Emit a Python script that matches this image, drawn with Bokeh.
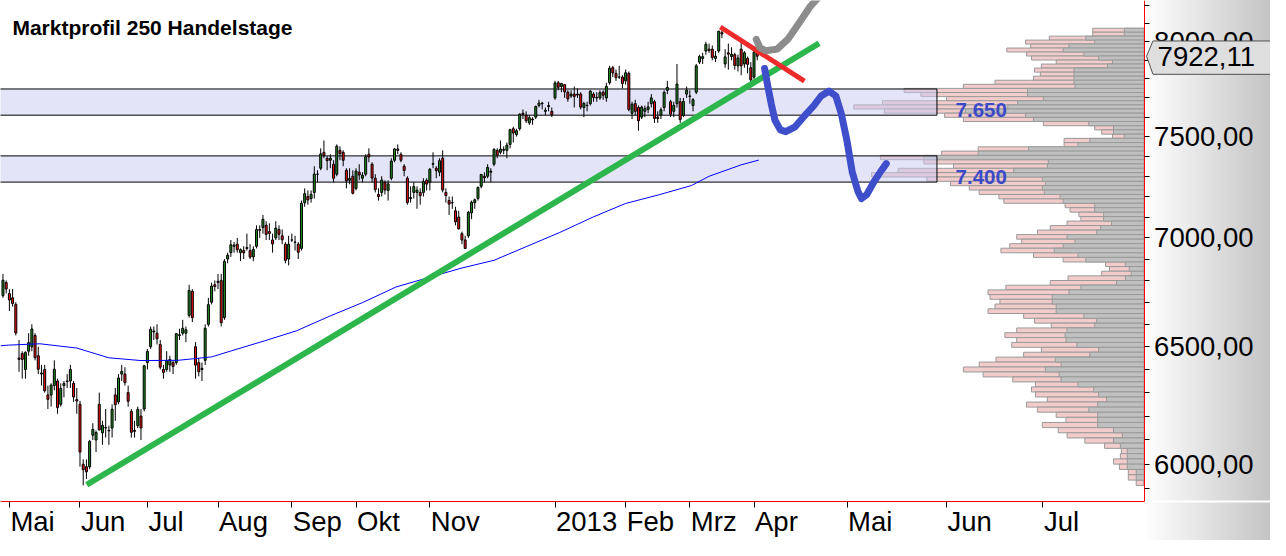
import math
from bokeh.plotting import figure
from bokeh.models import (Range1d, FixedTicker, ColumnDataSource, Label, LabelSet,
                          LinearAxis, LogAxis)
from bokeh.core.properties import value
from bokeh.embed import file_html
from bokeh.resources import INLINE

# ---------------- data ----------------
start_index = -2  # trading-day index of first candle (0 = 2 May 2012)
opens = [6730, 6790, 6740, 6720, 6690, 6450, 6470, 6400, 6480, 6500,
         6550, 6460, 6380, 6400, 6290, 6290, 6330, 6350, 6250, 6330,
         6350, 6350, 6340, 6270, 6250, 6000, 5990, 5990, 6120, 6100,
         6250, 6130, 6150, 6140, 6150, 6290, 6260, 6380, 6380, 6300,
         6220, 6140, 6160, 6200, 6230, 6430, 6500, 6570, 6560, 6510,
         6400, 6400, 6420, 6430, 6430, 6550, 6560, 6560, 6640, 6750,
         6500, 6430, 6400, 6440, 6600, 6700, 6780, 6790, 6800, 6630,
         6900, 6930, 6960, 6970, 6930, 6940, 6950, 6940, 6910, 6960,
         7040, 7050, 7060, 7030, 6990, 7000, 7040, 7010, 6970, 6900,
         6990, 6980, 6970, 6950, 7170, 7200, 7190, 7220, 7310, 7340,
         7420, 7390, 7380, 7360, 7310, 7430, 7420, 7330, 7280, 7300,
         7240, 7320, 7290, 7310, 7410, 7360, 7290, 7210, 7220, 7270,
         7230, 7290, 7380, 7430, 7410, 7350, 7290, 7190, 7220, 7220,
         7220, 7220, 7280, 7270, 7360, 7340, 7320, 7390, 7220, 7180,
         7170, 7130, 7100, 7020, 6990, 7010, 7120, 7170, 7190, 7250,
         7300, 7300, 7320, 7360, 7430, 7420, 7430, 7430, 7460, 7540,
         7510, 7540, 7620, 7610, 7570, 7590, 7600, 7660, 7670, 7630,
         7660, 7630, 7700, 7780, 7760, 7770, 7730, 7710, 7720, 7720,
         7720, 7650, 7660, 7670, 7720, 7700, 7700, 7730, 7700, 7780,
         7860, 7830, 7810, 7810, 7790, 7830, 7620, 7670, 7650, 7600,
         7630, 7640, 7670, 7680, 7600, 7610, 7650, 7740, 7680, 7630,
         7670, 7680, 7610, 7720, 7710, 7660, 7730, 7890, 7910, 7950,
         7960, 7960, 7910, 7950, 8050, 7880, 7940, 7920, 7930, 7870,
         7960, 7880, 7910, 7860, 7810, 7940]
highs = [6830, 6800, 6760, 6760, 6700, 6530, 6480, 6480, 6560, 6600,
         6560, 6500, 6420, 6420, 6330, 6340, 6440, 6360, 6340, 6350,
         6380, 6420, 6350, 6320, 6265, 6020, 6020, 6100, 6170, 6140,
         6300, 6180, 6230, 6160, 6250, 6320, 6380, 6420, 6410, 6330,
         6230, 6180, 6240, 6230, 6420, 6490, 6590, 6590, 6600, 6530,
         6420, 6480, 6460, 6440, 6560, 6580, 6620, 6590, 6780, 6760,
         6520, 6450, 6430, 6600, 6720, 6790, 6800, 6830, 6830, 6900,
         6930, 6990, 6980, 7000, 6950, 6960, 7020, 6970, 6960, 7060,
         7060, 7110, 7080, 7070, 7020, 7080, 7060, 7040, 6980, 7010,
         7020, 7010, 6980, 7180, 7240, 7230, 7230, 7350, 7330, 7440,
         7480, 7400, 7410, 7380, 7460, 7450, 7430, 7340, 7340, 7330,
         7340, 7360, 7320, 7410, 7440, 7370, 7310, 7240, 7300, 7280,
         7280, 7390, 7440, 7460, 7420, 7360, 7300, 7250, 7270, 7250,
         7240, 7290, 7290, 7340, 7420, 7350, 7390, 7430, 7240, 7200,
         7200, 7150, 7130, 7030, 7010, 7130, 7180, 7190, 7250, 7310,
         7320, 7360, 7340, 7440, 7440, 7480, 7450, 7470, 7540, 7550,
         7540, 7620, 7640, 7630, 7610, 7600, 7660, 7690, 7680, 7650,
         7680, 7650, 7790, 7790, 7780, 7770, 7740, 7740, 7760, 7750,
         7730, 7680, 7680, 7740, 7730, 7730, 7740, 7740, 7780, 7870,
         7870, 7850, 7870, 7820, 7850, 7840, 7680, 7690, 7660, 7660,
         7660, 7680, 7720, 7690, 7630, 7650, 7740, 7790, 7690, 7680,
         7880, 7700, 7700, 7760, 7740, 7700, 7880, 7930, 7940, 8000,
         7990, 7980, 7950, 8060, 8074, 7960, 7990, 7970, 7940, 7930,
         8010, 7950, 7920, 7890, 7960, 7960]
lows = [6720, 6740, 6660, 6680, 6550, 6390, 6360, 6360, 6460, 6480,
        6440, 6380, 6330, 6300, 6230, 6240, 6310, 6210, 6240, 6280,
        6320, 6320, 6260, 6210, 5990, 5914, 5940, 5980, 6100, 6050,
        6140, 6080, 6110, 6080, 6110, 6180, 6250, 6350, 6330, 6240,
        6110, 6110, 6150, 6100, 6220, 6400, 6490, 6530, 6510, 6400,
        6360, 6390, 6390, 6380, 6420, 6530, 6550, 6520, 6630, 6610,
        6360, 6370, 6350, 6420, 6590, 6690, 6750, 6760, 6590, 6620,
        6880, 6910, 6930, 6930, 6890, 6900, 6940, 6900, 6890, 6950,
        7000, 7020, 6990, 6990, 6930, 6990, 6990, 6970, 6880, 6870,
        6980, 6940, 6900, 6940, 7150, 7160, 7170, 7190, 7270, 7330,
        7390, 7330, 7340, 7270, 7300, 7380, 7350, 7240, 7260, 7210,
        7230, 7280, 7270, 7300, 7370, 7270, 7220, 7180, 7200, 7210,
        7180, 7280, 7370, 7410, 7370, 7300, 7160, 7170, 7190, 7140,
        7160, 7200, 7230, 7230, 7340, 7290, 7300, 7220, 7170, 7110,
        7140, 7060, 7040, 6970, 6950, 7000, 7090, 7140, 7180, 7240,
        7270, 7290, 7270, 7350, 7390, 7410, 7410, 7390, 7440, 7470,
        7500, 7530, 7590, 7570, 7560, 7560, 7590, 7650, 7640, 7610,
        7630, 7600, 7690, 7740, 7730, 7700, 7680, 7700, 7650, 7700,
        7640, 7600, 7630, 7660, 7680, 7680, 7690, 7690, 7680, 7770,
        7810, 7790, 7800, 7750, 7770, 7630, 7590, 7610, 7530, 7590,
        7600, 7620, 7650, 7570, 7570, 7590, 7630, 7720, 7600, 7600,
        7650, 7570, 7600, 7700, 7670, 7630, 7720, 7880, 7880, 7930,
        7940, 7900, 7890, 7940, 8020, 7860, 7850, 7900, 7850, 7840,
        7820, 7860, 7830, 7780, 7800, 7900]
closes = [6801, 6761, 6710, 6694, 6561, 6444, 6444, 6475, 6518, 6579,
          6452, 6401, 6385, 6308, 6271, 6332, 6401, 6236, 6318, 6339,
          6348, 6400, 6281, 6264, 6050, 5978, 5969, 6094, 6144, 6131,
          6142, 6161, 6152, 6138, 6229, 6248, 6363, 6392, 6343, 6263,
          6132, 6136, 6228, 6150, 6416, 6479, 6578, 6566, 6535, 6410,
          6387, 6438, 6444, 6413, 6558, 6553, 6582, 6575, 6754, 6630,
          6419, 6390, 6405, 6582, 6689, 6774, 6772, 6796, 6607, 6889,
          6918, 6967, 6966, 6944, 6944, 6929, 6954, 6909, 6945, 7040,
          7036, 7089, 7017, 7021, 6971, 7047, 7017, 6991, 6894, 6970,
          6990, 6979, 6932, 7167, 7214, 7183, 7211, 7311, 7310, 7412,
          7403, 7378, 7390, 7290, 7451, 7413, 7380, 7277, 7289, 7216,
          7326, 7306, 7305, 7398, 7397, 7291, 7234, 7200, 7281, 7232,
          7262, 7376, 7437, 7437, 7380, 7329, 7170, 7195, 7249, 7231,
          7204, 7273, 7261, 7335, 7363, 7328, 7378, 7232, 7205, 7163,
          7169, 7077, 7043, 6990, 6950, 7123, 7172, 7184, 7244, 7309,
          7292, 7344, 7325, 7435, 7405, 7436, 7435, 7456, 7535, 7518,
          7530, 7615, 7614, 7581, 7597, 7586, 7655, 7673, 7672, 7636,
          7655, 7612, 7779, 7756, 7776, 7732, 7695, 7720, 7708, 7715,
          7652, 7671, 7661, 7736, 7702, 7703, 7728, 7714, 7760, 7857,
          7832, 7807, 7810, 7776, 7833, 7639, 7667, 7630, 7581, 7652,
          7644, 7653, 7700, 7593, 7593, 7638, 7729, 7755, 7615, 7661,
          7773, 7587, 7681, 7741, 7708, 7691, 7870, 7920, 7919, 7986,
          7953, 7915, 7922, 8058, 8043, 7918, 7933, 7932, 7872, 7912,
          7870, 7940, 7878, 7795, 7943, 7922]

# 200-day moving average, read at sample days
ma_index = [-2.8, -0.3, 9.5, 21, 31, 41, 52.5, 63, 69, 79.5, 89.5, 100, 110, 120.5,
            130.5, 141, 151, 161, 171.5, 182, 192, 202.5, 212.5, 218, 228, 233.5]
ma_values = [6504, 6507, 6513, 6494, 6451, 6439, 6440, 6455, 6481, 6526, 6571, 6638,
             6698, 6770, 6813, 6858, 6894, 6958, 7026, 7101, 7166, 7209, 7254,
             7300, 7357, 7381]

# market profile (250 trading days), 100 price bins, listed top -> bottom
profile_low, profile_high, profile_bins = 5914, 8074, 100
profile_total = [52, 52, 96, 120, 115, 139, 119, 114, 89, 104,
                 111, 105, 112, 151, 183, 243, 226, 200, 265, 294,
                 263, 202, 183, 102, 50, 43, 32, 81, 81, 168,
                 205, 267, 223, 193, 249, 276, 220, 196, 177, 167,
                 147, 142, 80, 75, 66, 64, 78, 95, 108, 129,
                 124, 136, 145, 112, 82, 39, 35, 43, 77, 95,
                 140, 158, 156, 146, 151, 158, 122, 111, 94, 129,
                 141, 129, 134, 104, 122, 150, 167, 183, 163, 133,
                 110, 114, 110, 98, 119, 108, 89, 79, 103, 87,
                 78, 60, 40, 23, 24, 31, 25, 16, 16, 8]
profile_part = [20, 20, 59, 50, 76, 82, 61, 46, 32, 37,
                71, 71, 71, 71, 70, 118, 118, 102, 128, 138,
                181, 120, 112, 56, 31, 31, 20, 55, 67, 117,
                168, 223, 97, 98, 132, 148, 103, 100, 103, 101,
                85, 82, 50, 50, 41, 41, 33, 44, 48, 78,
                70, 82, 91, 67, 59, 19, 15, 13, 19, 28,
                64, 76, 93, 93, 89, 89, 61, 48, 50, 78,
                80, 79, 68, 46, 55, 90, 84, 100, 86, 84,
                67, 51, 46, 38, 47, 56, 47, 47, 47, 31,
                22, 31, 24, 17, 17, 17, 17, 8, 8, 0]

zone_bottoms = [7610, 7271]
zone_tops = [7747, 7402]
zone_labels = ["7.650", "7.400"]
zone_label_prices = [7636, 7296]

month_ticks = [0, 22, 43, 65, 88, 108, 131, 170, 192, 212, 232, 261, 292, 322]
month_labels = ["Mai", "Jun", "Jul", "Aug", "Sep", "Okt", "Nov", "2013",
                "Feb", "Mrz", "Apr", "Mai", "Jun", "Jul"]

y_ticks = [6000, 6500, 7000, 7500, 8000]
y_tick_labels = ["6000,00", "6500,00", "7000,00", "7500,00", "8000,00"]
y_minor_ticks = [5900, 6100, 6200, 6300, 6400, 6600, 6700, 6800, 6900, 7100,
                 7200, 7300, 7400, 7600, 7700, 7800, 7900, 8100, 8200]

last_price = 7922.11
last_price_label = "7922,11"

green_trend_x = [24.1, 252.3]
green_trend_y = [5917, 7992]
red_trend_x = [221.5, 247.7]
red_trend_y = [8081, 7788]
blue_path_x = [235.3, 236.2, 237.4, 238.5, 240.2, 241.9, 244.8, 248.3, 250.6, 252.9,
               255.4, 257.5, 259.2, 260.9, 262.6, 264.4, 265.5, 267.1, 269.5, 271.7, 273.2]
blue_path_y = [7856, 7770, 7667, 7585, 7534, 7525, 7550, 7617, 7659, 7710,
               7736, 7710, 7617, 7484, 7321, 7224, 7190, 7209, 7276, 7329, 7363]
grey_path_x = [232.7, 233.8, 235.6, 239.2, 242.5, 246.0, 249.4, 252.0]
grey_path_y = [8013, 7969, 7951, 7960, 8013, 8102, 8192, 8244]

title_text = "Marktprofil 250 Handelstage"

# ---------------- layout constants ----------------
FONT = "Liberation Sans"
W, H = 1270, 540
X_LO, X_HI = -2.769, 392.92          # visible trading-day span
Y_LO, Y_HI = 5696.4, 8228.1          # visible price span (log scale)
AXIS_X = 353.54                      # price axis position (day units)
AXIS_Y = 5849.3                      # time axis position (price units)
ZONE_RIGHT = 289
BOX_TIP, BOX_LEFT = 354.3, 356.3     # price tag pointer / body start (day units)
BOX_UP, BOX_DOWN = 1.0104, 0.9877    # price tag height factors (log scale)

p = figure(width=W, height=H,
           x_range=Range1d(X_LO, X_HI), y_range=Range1d(Y_LO, Y_HI),
           y_axis_type="log", x_axis_location=None, y_axis_location=None,
           output_backend="svg", toolbar_location=None,
           min_border_left=0, min_border_top=0, min_border_right=0, min_border_bottom=0)
p.outline_line_color = None
p.grid.visible = False
p.background_fill_color = None
p.border_fill_color = None
p.styles = {"background": "linear-gradient(to right, #ffffff 0px, #ffffff 1144px, #c4c4c4 1270px)"}

# time axis (ticks only, pointing down)
xaxis = LinearAxis(ticker=FixedTicker(ticks=month_ticks, minor_ticks=[]),
                   fixed_location=AXIS_Y, bounds=(X_LO, AXIS_X),
                   axis_line_color="red", axis_line_width=1,
                   major_tick_line_color="black", major_tick_in=6, major_tick_out=0,
                   minor_tick_line_color=None, major_label_text_color=None,
                   major_label_standoff=0)
p.add_layout(xaxis, "above")

# price axis (ticks only, pointing right)
yaxis = LogAxis(ticker=FixedTicker(ticks=y_ticks, minor_ticks=y_minor_ticks),
                fixed_location=AXIS_X, bounds=(AXIS_Y, Y_HI),
                axis_line_color="red", axis_line_width=1,
                major_tick_line_color="black", major_tick_in=5, major_tick_out=0,
                minor_tick_line_color="black", minor_tick_in=5, minor_tick_out=0,
                major_label_text_color=None, major_label_standoff=0)
p.add_layout(yaxis, "left")

# thin white separator continuing the time axis inside the price panel
p.segment(x0=[AXIS_X + 0.3], x1=[X_HI], y0=[AXIS_Y], y1=[AXIS_Y], color="white", line_width=2)

# market profile
p.extra_x_ranges = {"vol": Range1d(start=1158, end=-128)}
bin_size = (profile_high - profile_low) / profile_bins
bin_centers = [profile_high - (i + 0.5) * bin_size for i in range(profile_bins)]
prof = ColumnDataSource(dict(y=bin_centers, total=profile_total, part=profile_part))
p.hbar(y="y", height=bin_size, left=0, right="total", source=prof, x_range_name="vol",
       fill_color="#f2cbcb", line_color="#9a9a9a", line_width=1)
p.hbar(y="y", height=bin_size, left=0, right="part", source=prof, x_range_name="vol",
       fill_color="#c0c0c0", line_color="#9a9a9a", line_width=1)

# zones
p.quad(left=X_LO - 10, right=ZONE_RIGHT, bottom=zone_bottoms, top=zone_tops,
       fill_color="#c9c9f4", fill_alpha=0.5, line_color="black", line_width=1)

# candles
xs = [start_index + i for i in range(len(closes))]
body_top = [max(o, c) for o, c in zip(opens, closes)]
body_bot = [min(o, c) for o, c in zip(opens, closes)]
colors = ["#228b22" if c >= o else "#ee1111" for o, c in zip(opens, closes)]
cs = ColumnDataSource(dict(x=xs, h=highs, l=lows, t=body_top, b=body_bot, c=colors))
p.segment(x0="x", y0="l", x1="x", y1="h", source=cs, color="black", line_width=1)
p.vbar(x="x", width=0.62, top="t", bottom="b", source=cs, fill_color="c",
       line_color="black", line_width=1)

# moving average
p.line(ma_index, ma_values, color="#0000ff", line_width=1)

# trend lines and drawings
p.line(green_trend_x, green_trend_y, color="#2cb64c", line_width=6)
p.line(red_trend_x, red_trend_y, color="#ee2a2a", line_width=5)
p.line(blue_path_x, blue_path_y, color="#3f4ecb", line_width=7, line_cap="round", line_join="round")
p.line(grey_path_x, grey_path_y, color="#8c8c8c", line_width=7, line_cap="round", line_join="round")

# zone labels
for txt, yv in zip(zone_labels, zone_label_prices):
    p.add_layout(Label(x=294.8, y=yv, text=txt, text_color="#3d4ac8", text_font=FONT,
                       text_font_size="20.5px", text_font_style="bold",
                       text_baseline="alphabetic"))

# title
p.add_layout(Label(x=11.9, y=H - 27.2, x_units="screen", y_units="screen", text=title_text,
                   text_font=FONT, text_font_size="21px", text_font_style="bold",
                   text_color="black", text_baseline="alphabetic"))

# month labels (left aligned at their tick)
ms = ColumnDataSource(dict(x=month_ticks, text=month_labels))
p.add_layout(LabelSet(x="x", y=9.7, y_units="screen", text="text", source=ms,
                      x_offset=1, text_align="left", text_baseline="alphabetic",
                      text_font=value(FONT), text_font_size=value("27.5px"),
                      text_color="black"))

# price labels right of the price axis
ys = ColumnDataSource(dict(y=y_ticks, text=y_tick_labels))
p.add_layout(LabelSet(x=AXIS_X, y="y", text="text", source=ys, x_offset=10,
                      text_align="left", text_baseline="middle",
                      text_font=value(FONT), text_font_size=value("27.5px"),
                      text_color="black"))

# last price tag (pointer box drawn above the price labels)
tag_top, tag_bot = last_price * BOX_UP, last_price * BOX_DOWN
p.patch(x=[BOX_TIP, BOX_LEFT, X_HI + 5, X_HI + 5, BOX_LEFT],
        y=[last_price, tag_top, tag_top, tag_bot, tag_bot],
        fill_color="#dedede", line_color="#505050", line_width=1, level="overlay")
p.add_layout(Label(x=AXIS_X, y=last_price, x_offset=13.5, text=last_price_label,
                   text_font=FONT, text_font_size="27.5px", text_color="black",
                   text_baseline="middle", level="overlay"))

open("out.html", "w").write(file_html(p, INLINE))
